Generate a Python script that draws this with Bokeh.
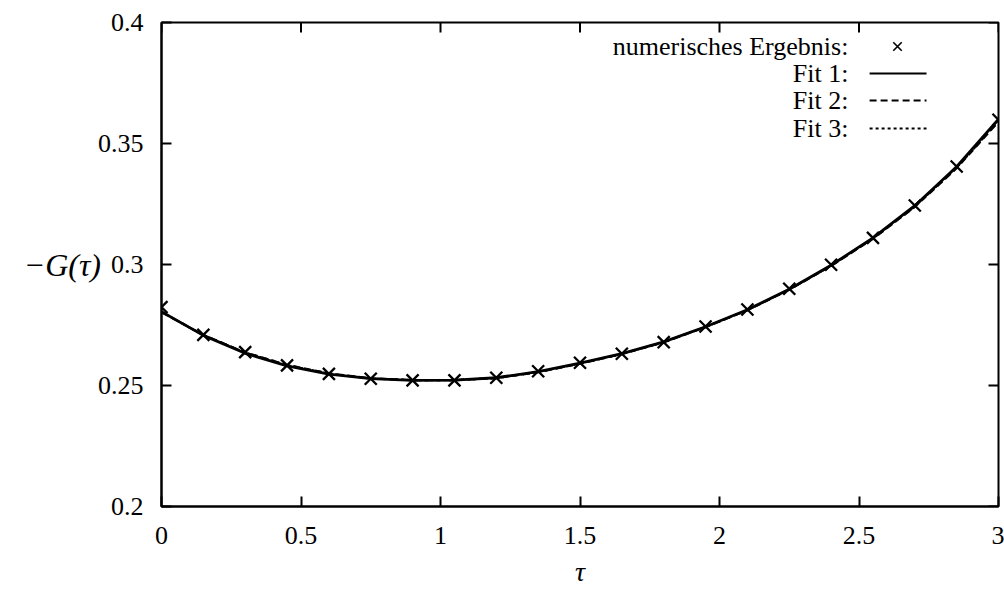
from bokeh.plotting import figure
from bokeh.models import Range1d, FixedTicker, Label, PrintfTickFormatter
from bokeh.embed import file_html
from bokeh.resources import INLINE

# Numerical result for -G(tau) and the three fitted curves
tau = [0.0, 0.15, 0.3, 0.45, 0.6, 0.75, 0.9, 1.05, 1.2, 1.35, 1.5,
       1.65, 1.8, 1.95, 2.1, 2.25, 2.4, 2.55, 2.7, 2.85, 3.0]
g_num = [0.2824, 0.2709, 0.2638, 0.2583, 0.2548, 0.2528, 0.2521, 0.2521, 0.2532, 0.2559, 0.2594,
         0.2631, 0.2679, 0.2744, 0.2814, 0.2900, 0.2999, 0.3110, 0.3244, 0.3405, 0.3598]
fit1 = [0.2805, 0.2707, 0.2633, 0.2581, 0.2547, 0.2528, 0.2521, 0.2522, 0.2532, 0.2557, 0.2592,
        0.2632, 0.2680, 0.2743, 0.2813, 0.2898, 0.2997, 0.3110, 0.3243, 0.3404, 0.3600]
fit2 = [0.2803, 0.2709, 0.2637, 0.2585, 0.2550, 0.2530, 0.2522, 0.2522, 0.2531, 0.2555, 0.2590,
        0.2630, 0.2679, 0.2741, 0.2811, 0.2896, 0.2994, 0.3106, 0.3238, 0.3398, 0.3590]
fit3 = [0.2804, 0.2708, 0.2636, 0.2584, 0.2549, 0.2529, 0.2522, 0.2522, 0.2531, 0.2556, 0.2591,
        0.2631, 0.2679, 0.2742, 0.2812, 0.2897, 0.2995, 0.3108, 0.3240, 0.3400, 0.3593]

x_ticks = [0, 0.5, 1, 1.5, 2, 2.5, 3]
y_ticks = [0.2, 0.25, 0.3, 0.35, 0.4]

legend_labels = ["numerisches Ergebnis:", "Fit 1:", "Fit 2:", "Fit 3:"]

FONT = "Liberation Serif"
INK = "#000000"
X0, X1, Y0, Y1 = 0, 3, 0.2, 0.4

p = figure(width=1004, height=592, output_backend="svg", toolbar_location=None,
           x_range=Range1d(X0, X1), y_range=Range1d(Y0, Y1))
p.min_border_left = 161
p.min_border_right = 6
p.min_border_top = 22
p.min_border_bottom = 86
p.background_fill_color = "white"
p.border_fill_color = "white"
p.grid.visible = False
p.outline_line_color = INK
p.outline_line_width = 2

fmt = PrintfTickFormatter(format="%g")

def style_axis(ax, ticks, standoff):
    ax.ticker = FixedTicker(ticks=ticks)
    ax.formatter = fmt
    ax.major_tick_in = 10
    ax.major_tick_out = 0
    ax.minor_tick_line_color = None
    ax.major_tick_line_color = INK
    ax.major_tick_line_width = 2
    ax.axis_line_color = INK
    ax.axis_line_width = 2
    ax.major_label_standoff = standoff
    ax.major_label_text_font = FONT
    ax.major_label_text_font_size = "26px"
    ax.major_label_text_color = INK
    ax.axis_label_text_font = FONT
    ax.axis_label_text_font_style = "italic"
    ax.axis_label_text_color = INK

xa = p.xaxis[0]
ya = p.yaxis[0]
style_axis(xa, x_ticks, 20)
style_axis(ya, y_ticks, 18)

xa.axis_label = "\u03c4"
xa.axis_label_text_font_size = "28px"
xa.axis_label_standoff = 9

ya.axis_label = "\u2212G(\u03c4)"
ya.axis_label_text_font_size = "32px"
ya.axis_label_orientation = "horizontal"
ya.axis_label_standoff = -6

# inward ticks mirrored on the top and right edges of the frame
tick_dx = 10 / 279.0
tick_dy = 10 / 2420.0
p.segment(x0=x_ticks, y0=[Y1] * len(x_ticks), x1=x_ticks, y1=[Y1 - tick_dy] * len(x_ticks),
          line_color=INK, line_width=2)
p.segment(x0=[X1] * len(y_ticks), y0=y_ticks, x1=[X1 - tick_dx] * len(y_ticks), y1=y_ticks,
          line_color=INK, line_width=2)

# fitted curves
p.line(tau, fit1, line_color=INK, line_width=2.8)
p.line(tau, fit2, line_color=INK, line_width=2.2, line_dash="7 4")
p.line(tau, fit3, line_color=INK, line_width=2.2, line_dash="3 3")

# numerical points
p.scatter(tau, g_num, marker="x", size=17, line_color=INK, line_width=2.3)

# key, with text right-aligned and sample to its right
row_y = [0.3901, 0.3789, 0.3678, 0.3562]
for lab, yy in zip(legend_labels, row_y):
    p.add_layout(Label(x=2.462, y=yy, text=lab, text_align="right", text_baseline="middle",
                       text_font=FONT, text_font_size="26px", text_color=INK))
p.scatter([2.638], [row_y[0]], marker="x", size=12, line_color=INK, line_width=1.6)
p.line([2.538, 2.742], [row_y[1], row_y[1]], line_color=INK, line_width=2)
p.line([2.538, 2.742], [row_y[2], row_y[2]], line_color=INK, line_width=2, line_dash="7 4")
p.line([2.538, 2.742], [row_y[3], row_y[3]], line_color=INK, line_width=2, line_dash="3 3")

open("out.html", "w").write(file_html(p, INLINE))
